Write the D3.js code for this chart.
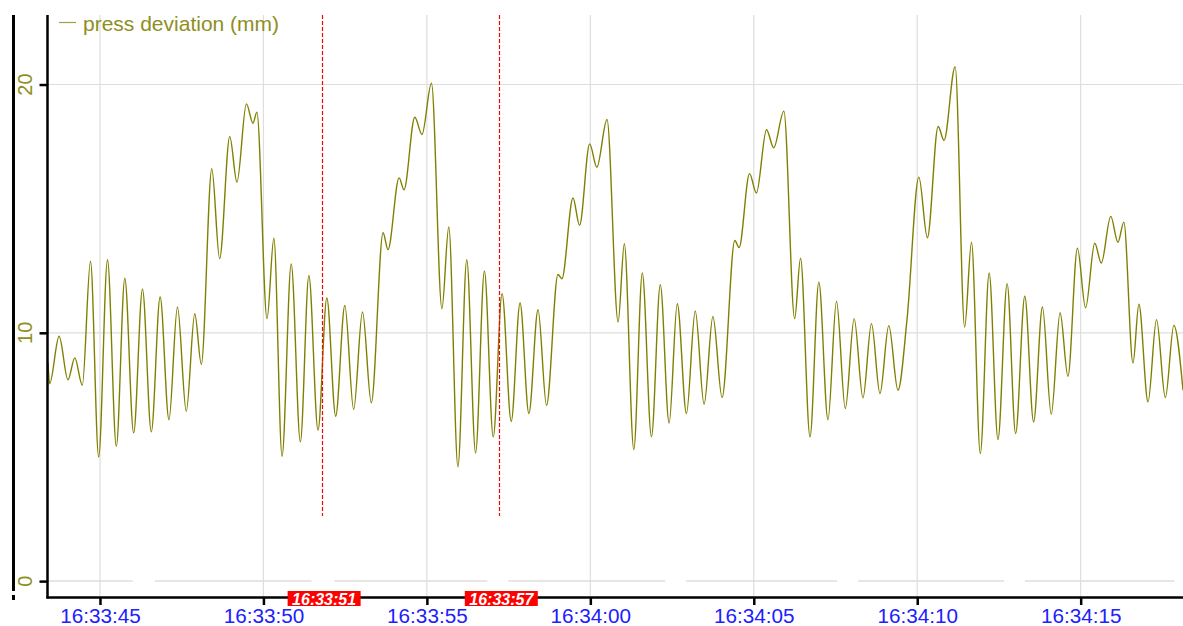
<!DOCTYPE html>
<html>
<head>
<meta charset="utf-8">
<script src="https://cdn.jsdelivr.net/npm/d3@7"></script>
<style>
    body { margin: 0; background: #fff; }
    svg { display: block; font-family: "Liberation Sans", Arial, sans-serif; }
</style>
</head>
<body>
<svg id="chart" width="1183" height="626"></svg>
<script>
// seconds after 16:33:40
const seconds = [
    3.41, 3.46, 3.75, 4.02, 4.23, 4.46, 4.71, 4.96, 5.23, 5.50,
    5.76, 6.03, 6.30, 6.57, 6.84, 7.11, 7.37, 7.64, 7.90, 8.10,
    8.42, 8.66, 8.97, 9.19, 9.48, 9.68, 9.80, 10.11, 10.32, 10.57,
    10.85, 11.13, 11.39, 11.67, 11.94, 12.21, 12.49, 12.76, 13.03, 13.30,
    13.66, 13.81, 14.15, 14.30, 14.63, 14.85, 15.14, 15.46, 15.67, 15.95,
    16.22, 16.49, 16.76, 17.03, 17.30, 17.58, 17.85, 18.12, 18.40, 18.66,
    19.01, 19.13, 19.47, 19.67, 19.98, 20.20, 20.51, 20.85, 21.04, 21.33,
    21.59, 21.87, 22.14, 22.41, 22.66, 22.94, 23.21, 23.48, 23.75, 24.03,
    24.42, 24.55, 24.87, 25.08, 25.39, 25.61, 25.92, 26.25, 26.43, 26.72,
    26.99, 27.27, 27.53, 27.80, 28.07, 28.34, 28.60, 28.86, 29.13, 29.41,
    29.69, 30.05, 30.31, 30.64, 30.82, 31.16, 31.45, 31.66, 31.93, 32.20,
    32.47, 32.75, 33.01, 33.29, 33.56, 33.83, 34.10, 34.37, 34.61, 34.90,
    35.15, 35.43, 35.63, 35.92, 36.14, 36.32, 36.60, 36.78, 37.06, 37.32,
    37.59, 37.85, 38.13
]

const deviation = [
    8.8, 7.95, 9.86, 8.11, 8.99, 7.89, 12.88, 5.0, 12.94, 5.43,
    12.2, 5.97, 11.76, 6.01, 11.44, 6.5, 11.04, 6.84, 10.77, 8.73,
    16.61, 12.99, 17.9, 16.07, 19.22, 18.44, 18.89, 10.57, 13.81, 5.03,
    12.77, 5.61, 12.31, 6.08, 11.4, 6.64, 11.1, 6.91, 10.84, 7.18,
    14.03, 13.35, 16.24, 15.76, 18.68, 17.99, 20.05, 10.97, 14.26, 4.6,
    12.94, 5.16, 12.49, 5.81, 11.58, 6.43, 11.2, 6.75, 10.93, 7.08,
    12.35, 12.18, 15.43, 14.33, 17.61, 16.67, 18.59, 10.43, 13.59, 5.3,
    12.41, 5.81, 11.94, 6.37, 11.17, 6.75, 10.88, 7.12, 10.66, 7.39,
    13.72, 13.43, 16.41, 15.63, 18.18, 17.45, 18.93, 10.57, 13.01, 5.81,
    12.04, 6.5, 11.27, 6.95, 10.57, 7.38, 10.37, 7.55, 10.29, 7.69,
    10.57, 16.27, 13.83, 18.31, 17.75, 20.72, 10.23, 13.65, 5.14, 12.41,
    5.7, 11.98, 5.94, 11.47, 6.41, 11.04, 6.72, 10.81, 8.25, 13.41,
    11.01, 13.61, 12.81, 14.69, 13.65, 14.46, 8.78, 11.15, 7.22, 10.53,
    7.39, 10.3, 7.69
]

const yTicks = [0, 10, 20]
const markerSeconds = [11.78, 17.20]
const markerLabels = ["16:33:51", "16:33:57"]
// pieces of the zero line, seconds after 16:33:40
const zeroLineStart = [3.41, 6.68, 12.17, 17.49, 22.93, 28.19, 33.30]
const zeroLineEnd = [6.00, 11.47, 16.85, 22.29, 27.55, 32.66, 37.87]
const seriesName = "press deviation (mm)"

const OLIVE = "#808000"
const LABEL_OLIVE = "#8e8e22"
const GRID = "#dedede"

const base = new Date(2024, 0, 1, 16, 33, 40)
const time = s => new Date(base.getTime() + s * 1000)

let plotLeft = 48, plotRight = 1183, plotTop = 15, plotBottom = 597

let x = d3.scaleTime().domain([time(3.41), time(38.13)]).range([plotLeft, plotRight])
let y = d3.scaleLinear().domain([-0.64, 22.8]).range([plotBottom, plotTop])
let crisp = v => Math.round(v) + 0.5

let svg = d3.select("#chart")

svg.append("defs").append("clipPath").attr("id", "plot")
    .append("rect")
    .attr("x", plotLeft).attr("y", plotTop)
    .attr("width", plotRight - plotLeft).attr("height", plotBottom - plotTop)

// grid
let xTickValues = x.ticks(d3.timeSecond.every(5))

svg.append("g").selectAll("line")
    .data(xTickValues)
    .join("line")
    .attr("x1", d => x(d)).attr("x2", d => x(d))
    .attr("y1", plotTop).attr("y2", plotBottom)
    .style("stroke", GRID)
    .style("stroke-width", 1.2)

svg.append("g").selectAll("line")
    .data(yTicks.filter(d => d !== 0))
    .join("line")
    .attr("x1", plotLeft).attr("x2", plotRight)
    .attr("y1", d => y(d)).attr("y2", d => y(d))
    .style("stroke", GRID)
    .style("stroke-width", 1.2)

svg.append("g").selectAll("line")
    .data(zeroLineStart)
    .join("line")
    .attr("x1", d => x(time(d)))
    .attr("x2", (d, i) => x(time(zeroLineEnd[i])))
    .attr("y1", y(0)).attr("y2", y(0))
    .style("stroke", GRID)
    .style("stroke-width", 1.5)

// series
let line = d3.line()
    .x((d, i) => x(time(seconds[i])))
    .y(d => y(d))
    .curve(d3.curveMonotoneX)

svg.append("path")
    .datum(deviation)
    .attr("d", line)
    .attr("clip-path", "url(#plot)")
    .style("fill", "none")
    .style("stroke", OLIVE)
    .style("stroke-width", 1.4)

// markers
svg.append("g").selectAll("line")
    .data(markerSeconds)
    .join("line")
    .attr("x1", d => crisp(x(time(d)))).attr("x2", d => crisp(x(time(d))))
    .attr("y1", plotTop).attr("y2", 516)
    .style("stroke", "#ff0000")
    .style("stroke-width", 1.2)
    .style("stroke-dasharray", "4,2")

// axes
let xAxis = svg.append("g")
    .attr("transform", `translate(0, ${plotBottom})`)
    .call(d3.axisBottom(x)
        .tickValues(xTickValues)
        .tickFormat(d3.timeFormat("%H:%M:%S"))
        .tickSize(8)
        .tickSizeOuter(0)
        .tickPadding(3))

xAxis.select(".domain")
    .attr("d", `M${plotLeft - 1.5},0.5H${plotRight}`)
    .style("stroke", "#000")
    .style("stroke-width", 2.5)

xAxis.selectAll(".tick line")
    .style("stroke", "#000")
    .style("stroke-width", 2.5)

xAxis.selectAll(".tick text")
    .style("fill", "#2020ff")
    .style("font-size", "20.7px")
    .style("font-family", "'Liberation Sans', Arial, sans-serif")

let yAxis = svg.append("g")
    .attr("transform", `translate(${plotLeft - 0.5}, 0)`)
    .call(d3.axisLeft(y).tickValues(yTicks).tickSize(8).tickSizeOuter(0).tickFormat(""))

yAxis.select(".domain")
    .attr("d", `M0,${plotTop}V${plotBottom + 1.5}`)
    .style("stroke", "#000")
    .style("stroke-width", 2.5)

yAxis.selectAll(".tick line")
    .style("stroke", "#000")
    .style("stroke-width", 2.5)

svg.append("g").selectAll("text")
    .data(yTicks)
    .join("text")
    .text(d => d)
    .attr("transform", d => `translate(31.5, ${y(d)}) rotate(-90)`)
    .attr("text-anchor", "middle")
    .style("fill", LABEL_OLIVE)
    .style("font-size", "20px")

// outer frame line on the left
svg.append("line")
    .attr("x1", 13.5).attr("x2", 13.5)
    .attr("y1", plotTop).attr("y2", 591)
    .style("stroke", "#000")
    .style("stroke-width", 3)

svg.append("line")
    .attr("x1", 13.5).attr("x2", 13.5)
    .attr("y1", 595).attr("y2", 600)
    .style("stroke", "#000")
    .style("stroke-width", 3)

// marker labels
let markerGroup = svg.append("g").selectAll("g")
    .data(markerSeconds)
    .join("g")
    .attr("transform", d => `translate(${x(time(d)) + 2.5}, 0)`)

markerGroup.append("rect")
    .attr("x", -36.5).attr("y", 591)
    .attr("width", 73).attr("height", 15)
    .style("fill", "#ff0000")

markerGroup.append("text")
    .text((d, i) => markerLabels[i])
    .attr("y", 604.5)
    .attr("text-anchor", "middle")
    .style("fill", "#fff")
    .style("font-size", "16px")
    .style("font-weight", "bold")
    .style("font-style", "italic")

// legend
svg.append("line")
    .attr("x1", 59).attr("x2", 76)
    .attr("y1", 22.5).attr("y2", 22.5)
    .style("stroke", "#a0a040")
    .style("stroke-width", 1.2)

svg.append("text")
    .text(seriesName)
    .attr("x", 83).attr("y", 30.5)
    .style("fill", LABEL_OLIVE)
    .style("font-size", "21px")
</script>
</body>
</html>
